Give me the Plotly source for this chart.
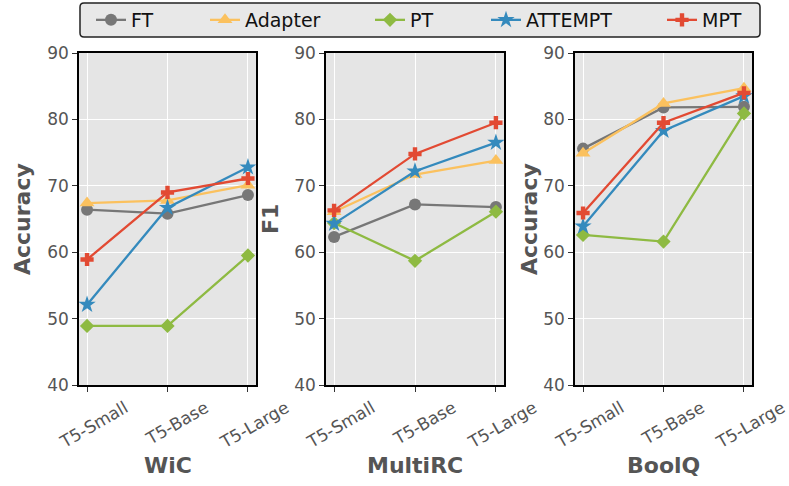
import plotly.graph_objects as go

W, H = 789, 486

models = ["T5-Small", "T5-Base", "T5-Large"]
tasks = ["WiC", "MultiRC", "BoolQ"]
metrics = ["Accuracy", "F1", "Accuracy"]
methods = ["FT", "Adapter", "PT", "ATTEMPT", "MPT"]

# scores per method, one list per task (T5-Small, T5-Base, T5-Large)
ft = [[66.4, 65.8, 68.6], [62.3, 67.2, 66.8], [75.6, 81.8, 81.9]]
adapter = [[67.4, 67.8, 70.1], [66.1, 71.7, 73.8], [74.9, 82.4, 84.7]]
pt = [[48.9, 48.9, 59.5], [64.4, 58.7, 66.1], [62.6, 61.6, 80.9]]
attempt = [[52.1, 66.7, 72.8], [64.3, 72.2, 76.5], [63.9, 78.3, 83.5]]
mpt = [[58.9, 69.0, 71.1], [66.3, 74.8, 79.5], [65.9, 79.5, 84.0]]

scores = [ft, adapter, pt, attempt, mpt]
colors = ["#777777", "#FBC15E", "#8EBA42", "#348ABD", "#E24A33"]
symbols = ["circle", "triangle-up", "diamond", "star", "cross"]
sizes = [12, 13, 11, 13, 11]

# pixel geometry of the three panels
panel_x = [(79, 256), (326, 504), (575, 752)]
panel_top, panel_bottom = 53, 385

fig = go.Figure()


def px_x(v):
    return v / W


def px_y(v):
    return 1 - v / H


legend_names = ["legend", "legend2", "legend3", "legend4", "legend5"]
legend_x = [99, 213, 378, 494, 670]

for p in range(3):
    xa = "x" if p == 0 else f"x{p + 1}"
    ya = "y" if p == 0 else f"y{p + 1}"
    for m, name in enumerate(methods):
        fig.add_trace(go.Scatter(
            x=models, y=scores[m][p], name=name,
            mode="lines+markers",
            line=dict(color=colors[m], width=2.3),
            marker=dict(symbol=symbols[m], size=sizes[m], color=colors[m]),
            xaxis=xa, yaxis=ya,
            legend=legend_names[m], showlegend=(p == 0),
        ))

axis_common = dict(
    showline=True, linecolor="black", linewidth=1.5, mirror=True,
    gridcolor="white", gridwidth=1,
    ticks="outside", ticklen=5, tickcolor="#333333", tickwidth=1,
    tickfont=dict(family="DejaVu Sans", size=17, color="#555555"),
    zeroline=False, automargin=False,
)

layout = dict(
    width=W, height=H,
    margin=dict(l=0, r=0, t=0, b=0, autoexpand=False),
    paper_bgcolor="white",
    plot_bgcolor="#E5E5E5",
    font=dict(family="DejaVu Sans"),
)

for p in range(3):
    sx = "" if p == 0 else str(p + 1)
    x0, x1 = panel_x[p]
    layout[f"xaxis{sx}"] = dict(
        axis_common, domain=[px_x(x0), px_x(x1)],
        type="category", range=[-0.1, 2.1], tickangle=-30,
        ticklabelshift=38,
        anchor=f"y{sx}",
    )
    layout[f"yaxis{sx}"] = dict(
        axis_common, domain=[px_y(panel_bottom), px_y(panel_top)],
        range=[40, 90], tickvals=[40, 50, 60, 70, 80, 90],
        anchor=f"x{sx}",
    )

fig.update_layout(**layout)

annotations = []
title_y_x = [22, 270, 529]
for p in range(3):
    x0, x1 = panel_x[p]
    annotations.append(dict(
        text=f"<b>{tasks[p]}</b>", x=px_x((x0 + x1) / 2), y=px_y(465),
        xref="paper", yref="paper", showarrow=False,
        font=dict(size=22, color="#555555", family="DejaVu Sans"),
        xanchor="center", yanchor="middle",
    ))
    annotations.append(dict(
        text=f"<b>{metrics[p]}</b>", x=px_x(title_y_x[p]),
        y=px_y((panel_top + panel_bottom) / 2),
        xref="paper", yref="paper", showarrow=False, textangle=-90,
        font=dict(size=22, color="#555555", family="DejaVu Sans"),
        xanchor="center", yanchor="middle",
    ))
fig.update_layout(annotations=annotations)

# rounded legend frame
bx0, by0, bx1, by1, r = 80, 3, 760, 37, 4
path = (
    f"M {px_x(bx0 + r)} {px_y(by0)} L {px_x(bx1 - r)} {px_y(by0)} "
    f"Q {px_x(bx1)} {px_y(by0)} {px_x(bx1)} {px_y(by0 + r)} "
    f"L {px_x(bx1)} {px_y(by1 - r)} "
    f"Q {px_x(bx1)} {px_y(by1)} {px_x(bx1 - r)} {px_y(by1)} "
    f"L {px_x(bx0 + r)} {px_y(by1)} "
    f"Q {px_x(bx0)} {px_y(by1)} {px_x(bx0)} {px_y(by1 - r)} "
    f"L {px_x(bx0)} {px_y(by0 + r)} "
    f"Q {px_x(bx0)} {px_y(by0)} {px_x(bx0 + r)} {px_y(by0)} Z"
)
fig.add_shape(type="path", path=path, xref="paper", yref="paper",
              line=dict(color="#222222", width=1.5), fillcolor="#E8E8E8")

legend_common = dict(
    orientation="h", bgcolor="rgba(0,0,0,0)", borderwidth=0,
    font=dict(size=19, color="#111111", family="DejaVu Sans"),
    yanchor="middle", y=px_y(20), xanchor="left",
)
for i, ln in enumerate(legend_names):
    fig.update_layout(**{ln: dict(legend_common, x=px_x(legend_x[i] - 8))})

fig.write_html("out.html")
